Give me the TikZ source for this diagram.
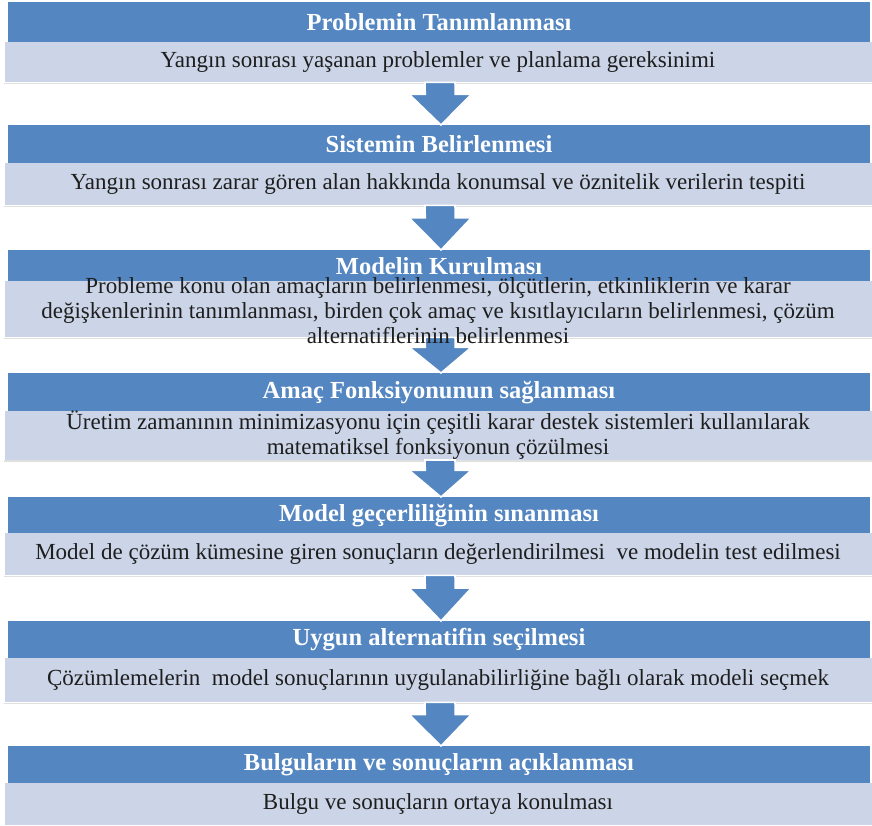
\documentclass[tikz,border=0pt]{standalone}
\usepackage{fontspec}
\setmainfont{Liberation Serif}
\usetikzlibrary{calc}
\definecolor{hdrblue}{RGB}{84,134,193}
\definecolor{sublight}{RGB}{203,213,231}
\definecolor{txtdark}{RGB}{30,30,30}
\tikzset{
  x=1pt,y=-1pt,
  hdrfont/.style={font=\fontsize{24.5}{26}\selectfont\bfseries},
  subfont/.style={font=\fontsize{23}{25}\selectfont},
  hdr/.style={hdrfont,fill=hdrblue,text=white,inner sep=0pt,minimum width=862pt,anchor=north},
  sub/.style={subfont,fill=sublight,text=txtdark,inner sep=0pt,minimum width=867pt,
    anchor=north,align=center},
  arr/.style={fill=hdrblue,draw=white,line width=1.6pt,line join=miter},
  shadowline/.style={draw=black!12,line width=1.2pt},
}
\newcommand\flowarrow[2]{%
  \coordinate (m) at ($(#1.south)!0.28!(#2.north)$);
  \filldraw[arr] ($(#1.south)+(-13,0)$) -- ($(#1.south)+(17,0)$)
     -- ($(m)+(17,0)$) -- ($(m)+(33,0)$) -- ($(#2.north)+(2,0)$)
     -- ($(m)+(-29,0)$) -- ($(m)+(-13,0)$) -- cycle;
}
\begin{document}
\begin{tikzpicture}
\useasboundingbox (0,0) rectangle (872,826);
\fill[white] (0,0) rectangle (872,826);
% block 1
\node[hdr,minimum height=40pt] (h1) at (439,2) {Problemin Tanımlanması};
\node[sub,minimum height=40pt] (s1) at (438,42) {Yangın sonrası yaşanan problemler ve planlama gereksinimi};
% block 2
\node[hdr,minimum height=38pt] (h2) at (439,125) {Sistemin Belirlenmesi};
\node[sub,minimum height=42pt] (s2) at (438,163) {Yangın sonrası zarar gören alan hakkında konumsal ve öznitelik\ verilerin tespiti};
% block 3
\node[hdr,minimum height=31pt] (h3) at (439,250) {};
\node[sub,minimum height=56pt] (s3) at (438,281) {};
% block 4
\node[hdr,minimum height=38pt] (h4) at (439,373) {Amaç Fonksiyonunun sağlanması};
\node[sub,minimum height=46pt] (s4) at (438,411) {Üretim zamanının minimizasyonu için çeşitli karar destek sistemleri kullanılarak\\matematiksel\ fonksiyonun çözülmesi};
% block 5
\node[hdr,minimum height=36pt] (h5) at (439,497) {Model geçerliliğinin sınanması};
\node[sub,minimum height=42pt] (s5) at (438,533) {Model de çözüm kümesine giren sonuçların değerlendirilmesi\ \ ve modelin test edilmesi};
% block 6
\node[hdr,minimum height=37pt] (h6) at (439,621) {Uygun alternatifin seçilmesi};
\node[sub,minimum height=44pt] (s6) at (438,658) {Çözümlemelerin\ \ model sonuçlarının uygulanabilirliğine bağlı olarak modeli seçmek};
% block 7
\node[hdr,minimum height=37pt] (h7) at (439,746) {Bulguların ve sonuçların açıklanması};
\node[sub,minimum height=42pt] (s7) at (438,783) {Bulgu ve sonuçların ortaya konulması};
% faint shadow lines under the light bars
\foreach \n in {s1,s2,s3,s4,s5,s6}
  \draw[shadowline] ([yshift=-1pt]\n.south west) -- ([yshift=-1pt]\n.south east);
% arrows
\flowarrow{s1}{h2}
\flowarrow{s2}{h3}
\flowarrow{s3}{h4}
\flowarrow{s4}{h5}
\flowarrow{s5}{h6}
\flowarrow{s6}{h7}
% block 3 texts drawn on top (overflowing, as in the original)
\node[hdrfont,text=white,inner sep=0pt] (t3) at (439,266) {Modelin Kurulması};
\node[subfont,text=txtdark,align=center,inner sep=0pt] (u3) at (438,311) {Probleme konu olan amaçların belirlenmesi, ölçütlerin, etkinliklerin ve karar\\değişkenlerinin tanımlanması, birden çok amaç ve kısıtlayıcıların\ belirlenmesi, çözüm\\alternatiflerinin belirlenmesi};
\end{tikzpicture}
\end{document}
